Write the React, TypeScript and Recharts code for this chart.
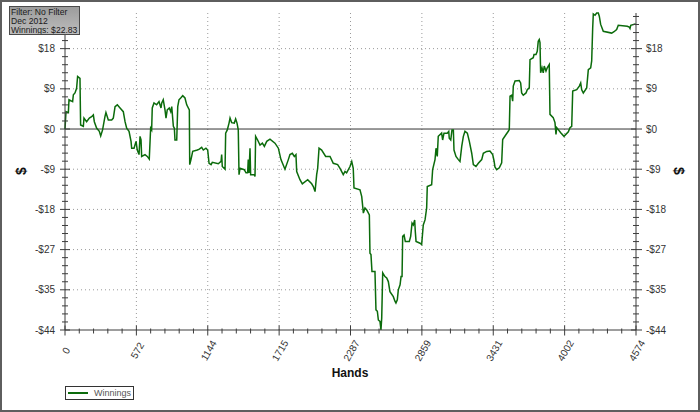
import React from 'react';
import { LineChart, Line, XAxis, YAxis, ReferenceLine } from 'recharts';

// cumulative winnings, by hand number
const hands = [
  0, 8, 27, 32, 61, 67, 80, 93, 101, 120, 125, 147, 152, 173, 195, 213, 227, 235, 253, 275,
  286, 301, 320, 328, 347, 374, 387, 401, 419, 441, 467, 481, 494, 513, 529, 534, 553, 569, 579, 593,
  601, 609, 614, 641, 659, 675, 686, 694, 699, 713, 734, 753, 769, 775, 787, 801, 809, 819, 835, 847,
  855, 868, 876, 881, 895, 903, 913, 927, 943, 961, 975, 996, 999, 1009, 1023, 1060, 1076, 1095, 1108, 1129,
  1143, 1154, 1170, 1180, 1228, 1250, 1255, 1260, 1282, 1287, 1300, 1314, 1322, 1335, 1356, 1367, 1378, 1388, 1394, 1402,
  1436, 1450, 1463, 1468, 1474, 1482, 1487, 1516, 1522, 1527, 1543, 1562, 1581, 1597, 1616, 1642, 1682, 1709, 1730, 1762,
  1789, 1802, 1821, 1837, 1850, 1856, 1882, 1901, 1944, 1976, 1989, 2003, 2016, 2024, 2035, 2056, 2088, 2123, 2149, 2184,
  2203,
  2229, 2243, 2256, 2283, 2297, 2309, 2315, 2363, 2377, 2385, 2390, 2403, 2417, 2438, 2443, 2451, 2459, 2483, 2491, 2502,
  2510, 2523, 2531, 2537, 2545, 2563, 2577, 2590, 2603, 2630, 2643, 2651, 2662, 2670, 2684, 2692, 2700, 2705, 2716, 2726,
  2758, 2769, 2780, 2790, 2801, 2806, 2812, 2844, 2857, 2870, 2884, 2897, 2902, 2937, 2945, 2964, 2972, 2982, 2990, 3017,
  3025, 3036, 3062, 3074, 3078, 3090, 3100, 3111, 3116, 3132, 3151, 3164, 3178, 3191, 3204, 3223, 3239, 3258, 3271, 3292,
  3311, 3338, 3351, 3378,
  3404, 3426, 3437, 3444, 3458, 3479, 3498, 3506, 3533, 3551, 3559, 3565, 3578, 3586, 3591, 3605, 3639, 3650, 3658, 3671,
  3693, 3703, 3719, 3725, 3751, 3757, 3773, 3783, 3791, 3799, 3805, 3810, 3821, 3831, 3839, 3853, 3863, 3879, 3885, 3911,
  3925, 3933, 3939, 3971, 3997, 4032, 4045, 4059, 4067, 4099, 4120, 4131, 4139, 4152, 4179, 4192, 4211, 4219, 4227, 4232,
  4246, 4259, 4272, 4280, 4291, 4312, 4379, 4398, 4419, 4432, 4504, 4520, 4526, 4532, 4566, 4574,
];

const winnings = [
  0, 3.8, 3.6, 6.4, 6.0, 7.5, 7.9, 8.9, 11.5, 11.1, 0.9, 0.6, 2.4, 1.6, 2.4, 2.7, 3.1, 1.6, 0.2, -0.5,
  -1.5, -0.2, 2.7, 3.6, 2.0, 2.0, 2.4, 4.9, 5.3, 4.6, 3.8, 1.6, 0.2, -0.5, -2.7, -4.2, -4.2, -2.7, -4.6, -5.6,
  -1.6, -2.4, -6.0, -5.6, -6.0, -6.6, 0.2, -0.2, 4.6, 5.7, 5.3, 6.0, 4.6, 5.7, 6.4, 4.2, 2.4, 4.2, 4.6, 3.8,
  4.9, 0.6, 0.2, -2.4, -2.4, 4.9, 6.4, 6.8, 7.3, 6.8, 5.3, 4.2, -7.8, -6.7, -4.9, -4.6, -4.4, -4.0, -4.6, -4.2,
  -4.6, -7.5, -7.8, -7.3, -7.6, -7.1, -5.6, -8.2, -8.8, -0.9, -0.2, 1.3, 2.4, 1.4, 1.3, 2.2, 1.3, -0.2, -10.0, -8.6,
  -8.9, -9.6, -9.6, -6.7, -9.6, -4.2, -10.0, -10.0, -10.4, -1.6, -2.4, -3.5, -3.1, -3.8, -2.7, -2.2, -3.1, -4.2, -6.7, -8.8,
  -6.7, -5.6, -5.3, -6.0, -5.6, -9.3, -11.1, -12.0, -11.1, -12.0, -12.6, -13.7, -10.0, -8.6, -4.2, -4.6, -6.0, -6.0, -7.5, -7.8,
  -8.6,
  -10.0, -9.3, -9.6, -8.2, -7.1, -8.6, -12.9, -13.3, -14.8, -17.0, -18.4, -17.3, -17.7, -18.8, -27.2, -27.5, -31.2, -31.2, -39.6, -39.9,
  -41.8, -42.1, -44.0, -41.4, -31.5, -32.3, -32.6, -33.4, -35.6, -36.7, -37.7, -38.1, -37.4, -35.2, -34.1, -32.3, -32.3, -23.5, -23.2, -24.6,
  -24.6, -23.5, -20.6, -21.0, -19.9, -22.4, -24.6, -25.0, -25.3, -21.0, -19.9, -17.3, -12.6, -12.2, -8.9, -6.7, -4.2, -6.0, -1.6, -0.9,
  -2.4, -0.9, -0.9, -0.5, -2.0, -2.4, -0.2, -0.2, -4.6, -6.0, -6.7, -7.1, -3.8, -1.6, -0.5, -0.9, -2.7, -5.3, -7.8, -8.2,
  -7.5, -6.7, -5.3, -4.9,
  -4.8, -5.6, -7.0, -8.3, -8.9, -8.5, -7.4, -2.3, -1.2, -0.5, -0.1, 7.2, 7.4, 6.1, 9.4, 10.5, 10.6, 10.1, 7.9, 7.4,
  7.9, 8.6, 9.0, 15.2, 15.6, 16.3, 16.3, 17.0, 19.2, 19.6, 18.9, 12.3, 13.4, 12.3, 13.8, 12.7, 13.4, 14.1, 3.2, 2.5,
  1.4, -1.2, 0.3, -0.8, -1.6, -0.6, 0.3, 0.6, 8.3, 8.6, 9.4, 10.1, 8.6, 7.9, 9.0, 13.0, 13.4, 14.9, 22.1, 25.2,
  24.9, 25.4, 25.4, 24.7, 22.9, 21.4, 21.0, 21.3, 21.8, 22.7, 22.5, 22.3, 22.0, 22.7, 23.0, 22.83,
];

const xMajorTicks = [0, 571.75, 1143.5, 1715.25, 2287, 2858.75, 3430.5, 4002.25, 4574];
const xTickLabels = ['0', '572', '1144', '1715', '2287', '2859', '3431', '4002', '4574'];
const yMajorTicks = [-44, -35.2, -26.4, -17.6, -8.8, 0, 8.8, 17.6];
const yTickLabels = ['-$44', '-$35', '-$27', '-$18', '-$9', '$0', '$9', '$18'];
const infoLines = ['Filter: No Filter', 'Dec 2012', 'Winnings: $22.83'];
const seriesName = 'Winnings';

const data = hands.map((h, i) => ({ hands: h, value: winnings[i] }));

const X_DOMAIN = [0, 4574];
const Y_DOMAIN = [-44, 25.4];
const AXIS = '#3c3c3c';
const LABEL = '#333';
const GREEN = '#0b6b0b';
const FONT = '"Liberation Sans", Arial, sans-serif';

// minor ticks: 5 steps between each pair of majors
const xAllTicks: number[] = [];
for (let i = 0; i < xMajorTicks.length - 1; i++) {
  const step = (xMajorTicks[i + 1] - xMajorTicks[i]) / 5;
  for (let k = 0; k < 5; k++) xAllTicks.push(xMajorTicks[i] + k * step);
}
xAllTicks.push(xMajorTicks[xMajorTicks.length - 1]);

const yAllTicks: number[] = [];
for (let k = 0; -44 + k * 1.76 <= Y_DOMAIN[1] + 1e-6; k++) {
  yAllTicks.push(Math.round((-44 + k * 1.76) * 1000) / 1000);
}

const findMajor = (list: number[], v: number) => list.findIndex((m) => Math.abs(m - v) < 0.01);

const renderBottomTick = (props: any) => {
  const { x, y, payload } = props;
  const idx = findMajor(xMajorTicks, payload.value);
  const major = idx >= 0;
  const ly = y + 20.5;
  return (
    <g key={`bt-${payload.value}`}>
      <line x1={x} x2={x} y1={y - (major ? 4.5 : 1.5)} y2={y + (major ? 5.5 : 3.5)} stroke={AXIS} />
      {major && (
        <text
          x={x + 1}
          y={ly}
          transform={`rotate(-60 ${x + 1} ${ly})`}
          textAnchor="middle"
          dominantBaseline="central"
          fontSize={10}
          fill={LABEL}
        >
          {xTickLabels[idx]}
        </text>
      )}
    </g>
  );
};

const renderTopTick = (props: any) => {
  const { x, y, payload } = props;
  const major = findMajor(xMajorTicks, payload.value) >= 0;
  return <line key={`tt-${payload.value}`} x1={x} x2={x} y1={y} y2={y + (major ? 4 : 2)} stroke={AXIS} />;
};

const renderLeftTick = (props: any) => {
  const { x, y, payload } = props;
  const idx = findMajor(yMajorTicks, payload.value);
  const major = idx >= 0;
  return (
    <g key={`lt-${payload.value}`}>
      <line x1={x - (major ? 5 : 3)} x2={x + (major ? 5 : 3)} y1={y} y2={y} stroke={AXIS} />
      {major && (
        <text x={x - 10} y={y} dy={3.5} textAnchor="end" fontSize={10} fill={LABEL}>
          {yTickLabels[idx]}
        </text>
      )}
    </g>
  );
};

const renderRightTick = (props: any) => {
  const { x, y, payload } = props;
  const idx = findMajor(yMajorTicks, payload.value);
  const major = idx >= 0;
  return (
    <g key={`rt-${payload.value}`}>
      <line x1={x - (major ? 5 : 3)} x2={x + (major ? 6 : 3)} y1={y} y2={y} stroke={AXIS} />
      {major && (
        <text x={x + 10} y={y} dy={3.5} textAnchor="start" fontSize={10} fill={LABEL}>
          {yTickLabels[idx]}
        </text>
      )}
    </g>
  );
};

const App: React.FC = () => {
  return (
    <div style={{ position: 'absolute', left: 0, top: 0, width: 700, height: 412, background: '#fff', fontFamily: FONT }}>
      <div style={{ position: 'absolute', left: 0, top: 0 }}>
        <LineChart
          width={700}
          height={412}
          data={data}
          margin={{ top: 13, right: 19, bottom: 32, left: 20 }}
          style={{ fontFamily: FONT }}
        >
          <XAxis
            dataKey="hands"
            type="number"
            domain={X_DOMAIN}
            ticks={xAllTicks}
            interval={0}
            height={50}
            tickSize={0}
            tickMargin={0}
            tickLine={false}
            axisLine={{ stroke: AXIS }}
            tick={renderBottomTick}
          />
          <XAxis
            xAxisId="top"
            dataKey="hands"
            orientation="top"
            type="number"
            domain={X_DOMAIN}
            ticks={xAllTicks}
            interval={0}
            height={0}
            tickSize={0}
            tickMargin={0}
            tickLine={false}
            axisLine={{ stroke: AXIS }}
            tick={renderTopTick}
          />
          <YAxis
            yAxisId="left"
            type="number"
            domain={Y_DOMAIN}
            ticks={yAllTicks}
            interval={0}
            width={45}
            tickSize={0}
            tickMargin={0}
            tickLine={false}
            axisLine={{ stroke: AXIS }}
            tick={renderLeftTick}
          />
          <YAxis
            yAxisId="right"
            orientation="right"
            type="number"
            domain={Y_DOMAIN}
            ticks={yAllTicks}
            interval={0}
            width={45}
            tickSize={0}
            tickMargin={0}
            tickLine={false}
            axisLine={{ stroke: AXIS }}
            tick={renderRightTick}
          />
          {xMajorTicks.slice(1, -1).map((v) => (
            <ReferenceLine key={`gx-${v}`} x={v} yAxisId="left" stroke="#9a9a9a" strokeDasharray="1 3" />
          ))}
          {yMajorTicks.filter((v) => v !== -44 && v !== 0).map((v) => (
            <ReferenceLine key={`gy-${v}`} y={v} yAxisId="left" stroke="#9a9a9a" strokeDasharray="1 3" />
          ))}
          <ReferenceLine y={0} yAxisId="left" stroke="#333" />
          {/* invisible copy so the top and right axes have a series and draw their ticks */}
          <Line
            xAxisId="top"
            yAxisId="right"
            type="linear"
            dataKey="value"
            stroke="none"
            dot={false}
            activeDot={false}
            legendType="none"
            isAnimationActive={false}
          />
          <Line
            yAxisId="left"
            type="linear"
            dataKey="value"
            name={seriesName}
            stroke={GREEN}
            strokeWidth={1.5}
            dot={false}
            activeDot={false}
            isAnimationActive={false}
          />
        </LineChart>
      </div>

      {/* axis titles */}
      <div style={{ position: 'absolute', left: 0, top: 366, width: 700, textAlign: 'center', fontWeight: 'bold', fontSize: 12, color: '#111' }}>
        Hands
      </div>
      <div style={{ position: 'absolute', left: 14, top: 163, width: 14, height: 16, fontWeight: 'bold', fontSize: 14, lineHeight: '16px', textAlign: 'center', transform: 'rotate(-90deg)', color: '#111' }}>
        $
      </div>
      <div style={{ position: 'absolute', left: 672, top: 163, width: 14, height: 16, fontWeight: 'bold', fontSize: 14, lineHeight: '16px', textAlign: 'center', transform: 'rotate(90deg)', color: '#111' }}>
        $
      </div>

      {/* info box */}
      <div
        style={{
          position: 'absolute',
          left: 9,
          top: 6,
          width: 71,
          height: 29,
          boxSizing: 'border-box',
          border: '1px solid #4a4a4a',
          background: 'linear-gradient(#9c9c9c, #bdbdbd)',
          padding: '0.5px 0 0 1px',
          fontSize: 8.6,
          lineHeight: '9px',
          color: '#1a1a1a',
          whiteSpace: 'nowrap',
          overflow: 'hidden',
        }}
      >
        {infoLines.map((t) => (
          <div key={t}>{t}</div>
        ))}
      </div>

      {/* legend */}
      <div
        style={{
          position: 'absolute',
          left: 65,
          top: 386,
          width: 69,
          height: 14,
          boxSizing: 'border-box',
          border: '1px solid #333',
          background: '#fff',
        }}
      >
        <div style={{ position: 'absolute', left: 2, top: 5, width: 20, height: 2, background: GREEN }} />
        <div style={{ position: 'absolute', left: 28, top: 0, fontSize: 9, lineHeight: '12px', color: '#555' }}>{seriesName}</div>
      </div>

      {/* outer frame */}
      <div style={{ position: 'absolute', left: 0, top: 0, width: 700, height: 412, boxSizing: 'border-box', border: '2px solid #5e5e5e', pointerEvents: 'none' }} />
    </div>
  );
};

export default App;
